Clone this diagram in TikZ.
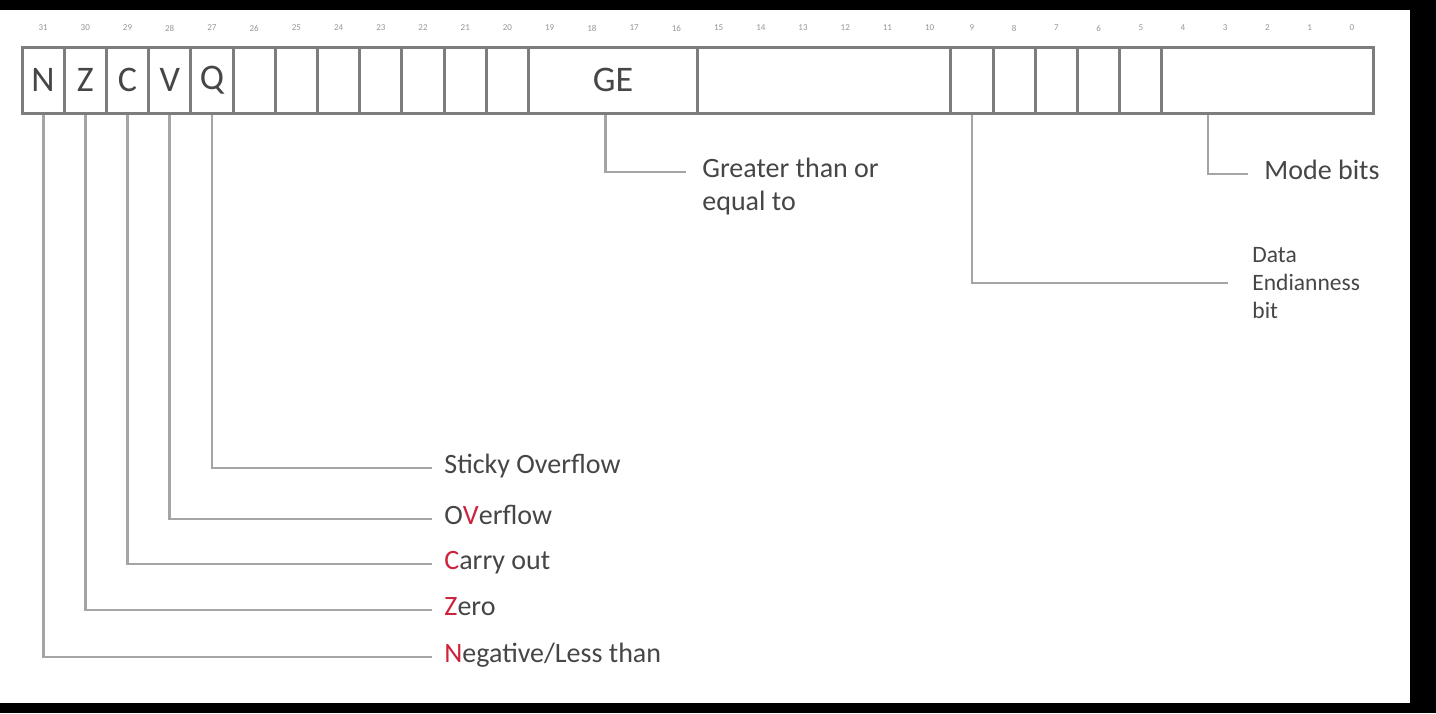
\documentclass[tikz,border=0pt]{standalone}
\usepackage{fontspec}
\setmainfont{Carlito}
\usetikzlibrary{positioning}
\definecolor{boxgray}{RGB}{125,125,125}
\definecolor{leadgray}{RGB}{165,165,165}
\definecolor{inkgray}{RGB}{70,70,70}
\definecolor{flagred}{RGB}{205,35,60}
\definecolor{numgray}{RGB}{150,150,150}

\tikzset{
  field/.style={draw=boxgray, line width=1.5pt, minimum height=33pt, inner sep=0pt,
    text=inkgray, font=\fontsize{18}{21}\selectfont},
  leader/.style={draw=leadgray, line width=1.4pt},
  notelbl/.style={anchor=west, inner xsep=6pt, inner ysep=0pt, text=inkgray,
    font=\fontsize{14}{16.5}\selectfont},
  flaglbl/.style={notelbl, text height=7pt, text depth=2pt},
  bitnum/.style={text=numgray, font=\fontsize{4.5}{5}\selectfont, inner sep=0pt},
}

\begin{document}
\begin{tikzpicture}[x=0.5pt, y=-0.5pt]
  % black frame round the page
  \fill[black] (0,0) rectangle (1436,713);
  \fill[white] (0,10) rectangle (1410,703);

  % bit numbers
  \foreach \b in {0,...,31}
    \node[bitnum] (b\b) at ({1373-21.11-42.22*\b}, 28) {\b};

  % single-bit fields 31..20
  \foreach \b/\t in {31/N,30/Z,29/C,28/V,27/Q,26/{},25/{},24/{},23/{},22/{},21/{},20/{}}
    \node[field, minimum width=21.11pt] (f\b) at ({22+42.22*(31-\b)+21.11}, 80) {\t};

  % wide fields and bits 9..5
  \node[field, minimum width=84.44pt] (fGE) at (613.1, 80) {GE};
  \node[field, minimum width=126.66pt] (f15) at (824.2, 80) {};
  \foreach \b in {9,...,5}
    \node[field, minimum width=21.11pt] (f\b) at ({22+42.22*(31-\b)+21.11}, 80) {};
  \node[field, minimum width=105.55pt] (fM) at (1267.5, 80) {};

  % flag labels
  \node[flaglbl] (lQ) at (432, 468) {Sticky Overflow};
  \node[flaglbl] (lV) at (432, 519) {O\textcolor{flagred}{V}erflow};
  \node[flaglbl] (lC) at (432, 564) {\textcolor{flagred}{C}arry out};
  \node[flaglbl] (lZ) at (432, 610) {\textcolor{flagred}{Z}ero};
  \node[flaglbl] (lN) at (432, 657) {\textcolor{flagred}{N}egative/Less than};

  % other labels
  \node[notelbl, anchor=north west, align=left, inner xsep=8pt] (lGE) at (686, 158) {Greater than or\\equal to};
  \node[notelbl, align=left, inner xsep=12pt, font=\fontsize{11.75}{14}\selectfont] (lD) at (1228, 283) {Data\\Endianness\\bit};
  \node[flaglbl, inner xsep=8pt] (lM) at (1248, 174) {Mode bits};

  % leaders
  \draw[leader] (f31.south) |- (lN.west);
  \draw[leader] (f30.south) |- (lZ.west);
  \draw[leader] (f29.south) |- (lC.west);
  \draw[leader] (f28.south) |- (lV.west);
  \draw[leader] (f27.south) |- (lQ.west);
  \draw[leader] ([xshift=-4pt]fGE.south) |- ([yshift=-7pt]lGE.north west);
  \draw[leader] (f9.south) |- (lD.west);
  \draw[leader] ([xshift=-29.75pt]fM.south) |- (lM.west);
\end{tikzpicture}
\end{document}
